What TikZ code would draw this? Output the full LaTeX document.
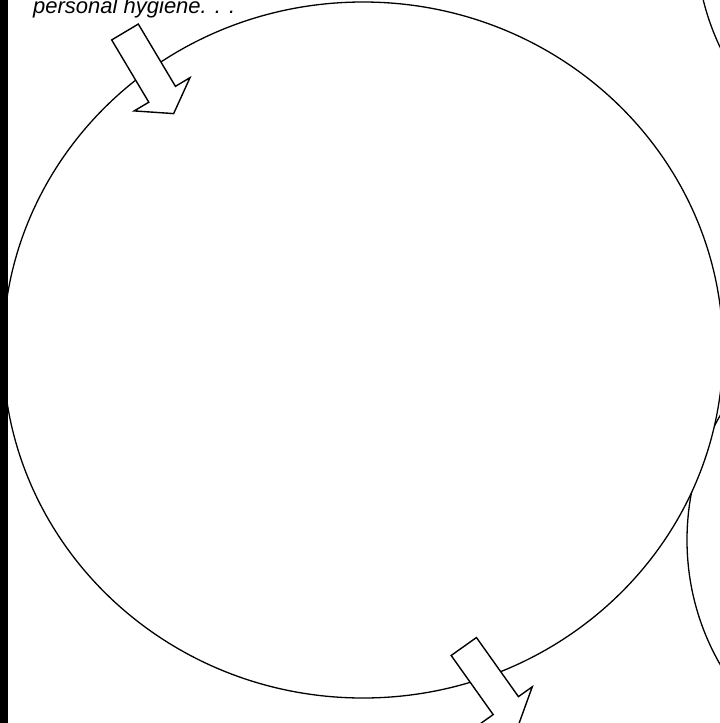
\documentclass[tikz,border=0pt]{standalone}
\usepackage{fontspec}
\setmainfont{Liberation Sans}
\usepackage{tikz}

\tikzset{
  cycleline/.style={draw=black, line width=1.3pt},
  arrowline/.style={draw=black, fill=white, line width=1.4pt, line join=miter},
  cyclearrow/.pic={
    \draw[arrowline] (0,-15.5) -- (72.5,-15.5) -- (72.5,-32.5) -- (95,0)
      -- (72.5,32.5) -- (72.5,15.5) -- (0,15.5) -- cycle;
  }
}

\begin{document}
\begin{tikzpicture}[x=1pt, y=-1pt]
        \useasboundingbox (0,0) rectangle (720,723);
        \clip (0,0) rectangle (720,723);

        % neighbouring circles of the cycle, mostly off the page
        \draw[cycleline] (946,-60) circle[radius=250];
        \draw[cycleline] (937,540) circle[radius=250];

        % main circle
        \draw[cycleline, fill=white] (363,350) ellipse[x radius=360, y radius=348];

        % arrows into and out of the circle
        \pic[rotate=-59.2] at (125,32) {cyclearrow};
        \pic[rotate=-54.6] at (463.8,646.5) {cyclearrow};

        % left edge bar
        \fill[black] (0,0) rectangle (8,723);

        \node (hygiene) [anchor=base west, inner sep=0pt, font=\fontsize{22}{26}\selectfont\itshape] at (33,13.5) {personal hygiene. . .};
    \end{tikzpicture}
\end{document}
